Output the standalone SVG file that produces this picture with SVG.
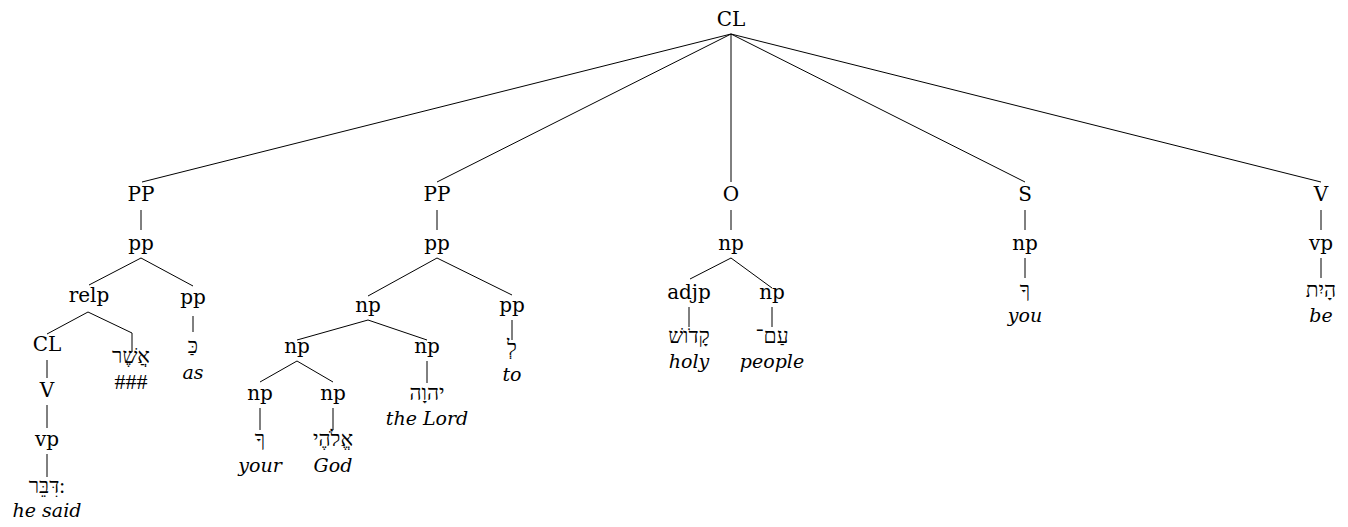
<svg xmlns="http://www.w3.org/2000/svg" width="1348" height="527" viewBox="0 0 1348 527">
<style>
.l{font-family:"DejaVu Serif","Liberation Serif",serif;font-size:20px;fill:#000;text-anchor:middle}
.h{font-family:"Liberation Serif","DejaVu Sans",serif;font-size:21px;fill:#000;text-anchor:middle}
.k{font-family:"Liberation Serif",serif;font-size:22px;fill:#000;text-anchor:middle}
.g{font-family:"DejaVu Serif","Liberation Serif",serif;font-style:italic;font-size:19px;fill:#000;text-anchor:middle}
.e line,.e polyline{stroke:#000;stroke-width:1;fill:none}
</style>
<rect width="1348" height="527" fill="#fff"/>
<g class="e" id="connectors">
<line x1="731" y1="34" x2="142" y2="182"/>
<line x1="731" y1="34" x2="437" y2="182"/>
<line x1="731" y1="34" x2="731" y2="182"/>
<line x1="731" y1="34" x2="1025" y2="182"/>
<line x1="731" y1="34" x2="1321" y2="182"/>
<line x1="141" y1="210" x2="141" y2="230"/>
<line x1="437" y1="210" x2="437" y2="230"/>
<line x1="731" y1="210" x2="731" y2="230"/>
<line x1="1025" y1="210" x2="1025" y2="230"/>
<line x1="1321" y1="210" x2="1321" y2="230"/>
<line x1="141" y1="258" x2="89" y2="285"/>
<line x1="141" y1="258" x2="193" y2="286"/>
<line x1="88" y1="312" x2="47" y2="334"/>
<polyline points="88,312 132,333 132,352"/>
<line x1="193" y1="316" x2="193" y2="332"/>
<line x1="47" y1="360" x2="47" y2="378"/>
<line x1="47" y1="405" x2="47" y2="428"/>
<line x1="47" y1="454" x2="47" y2="477"/>
<line x1="437" y1="258" x2="368" y2="296"/>
<line x1="437" y1="258" x2="512" y2="295"/>
<line x1="512" y1="320" x2="512" y2="340"/>
<line x1="368" y1="320" x2="297" y2="340"/>
<line x1="368" y1="320" x2="427" y2="340"/>
<line x1="427" y1="361" x2="427" y2="383"/>
<line x1="297" y1="361" x2="260" y2="382"/>
<line x1="297" y1="361" x2="333" y2="382"/>
<line x1="260" y1="408" x2="260" y2="430"/>
<line x1="333" y1="408" x2="333" y2="430"/>
<line x1="731" y1="258" x2="690" y2="279"/>
<line x1="731" y1="258" x2="772" y2="288"/>
<line x1="689" y1="307" x2="689" y2="327"/>
<line x1="772" y1="307" x2="772" y2="327"/>
<line x1="1025" y1="258" x2="1025" y2="278"/>
<line x1="1321" y1="258" x2="1321" y2="278"/>
</g>
<g id="n-root"><text class="l" x="731" y="26">CL</text></g>
<g id="n-pp1"><text class="l" x="141" y="201">PP</text></g>
<g id="n-pp2"><text class="l" x="437" y="201">PP</text></g>
<g id="n-o"><text class="l" x="731" y="201">O</text></g>
<g id="n-s"><text class="l" x="1025" y="201">S</text></g>
<g id="n-v"><text class="l" x="1321" y="201">V</text></g>
<g id="n-pp1a"><text class="l" x="141" y="250">pp</text></g>
<g id="n-pp2a"><text class="l" x="437" y="250">pp</text></g>
<g id="n-onp"><text class="l" x="731" y="250">np</text></g>
<g id="n-snp"><text class="l" x="1025" y="250">np</text></g>
<g id="n-vvp"><text class="l" x="1321" y="250">vp</text></g>
<g id="n-relp"><text class="l" x="89" y="302">relp</text></g>
<g id="n-pp1b"><text class="l" x="193" y="304">pp</text></g>
<g id="n-cl2"><text class="l" x="47" y="351">CL</text></g>
<g id="n-asher"><text class="h" x="131" y="363">אֲשֶׁר</text><text class="k" x="131" y="389">###</text></g>
<g id="n-ka"><text class="h" x="193" y="353">כַּ</text><text class="g" x="193" y="379">as</text></g>
<g id="n-v2"><text class="l" x="47" y="397">V</text></g>
<g id="n-vp2"><text class="l" x="47" y="446">vp</text></g>
<g id="n-dibber"><text class="h" x="47" y="493">דִּבֵּר:</text><text class="g" x="47" y="517">he said</text></g>
<g id="n-np3"><text class="l" x="368" y="312">np</text></g>
<g id="n-pp3"><text class="l" x="512" y="312">pp</text></g>
<g id="n-le"><text class="h" x="512" y="355">לְ</text><text class="g" x="512" y="381">to</text></g>
<g id="n-np4"><text class="l" x="297" y="353">np</text></g>
<g id="n-np5"><text class="l" x="427" y="353">np</text></g>
<g id="n-yhwh"><text class="h" x="427" y="400">יהוָה</text><text class="g" x="427" y="425">the Lord</text></g>
<g id="n-np6"><text class="l" x="260" y="400">np</text></g>
<g id="n-np7"><text class="l" x="333" y="400">np</text></g>
<g id="n-your"><text class="h" x="260" y="446">ךָ</text><text class="g" x="260" y="472">your</text></g>
<g id="n-god"><text class="h" x="333" y="446">אֱלֹהֶי</text><text class="g" x="333" y="472">God</text></g>
<g id="n-adjp"><text class="l" x="689" y="299">adjp</text></g>
<g id="n-np8"><text class="l" x="772" y="299">np</text></g>
<g id="n-holy"><text class="h" x="689" y="343">קָדֹושׁ</text><text class="g" x="689" y="368">holy</text></g>
<g id="n-people"><text class="h" x="772" y="343">עַם־</text><text class="g" x="772" y="368">people</text></g>
<g id="n-you"><text class="h" x="1025" y="297">ךָ</text><text class="g" x="1025" y="322">you</text></g>
<g id="n-be"><text class="h" x="1321" y="297">הָיִת</text><text class="g" x="1321" y="322">be</text></g>
</svg>
